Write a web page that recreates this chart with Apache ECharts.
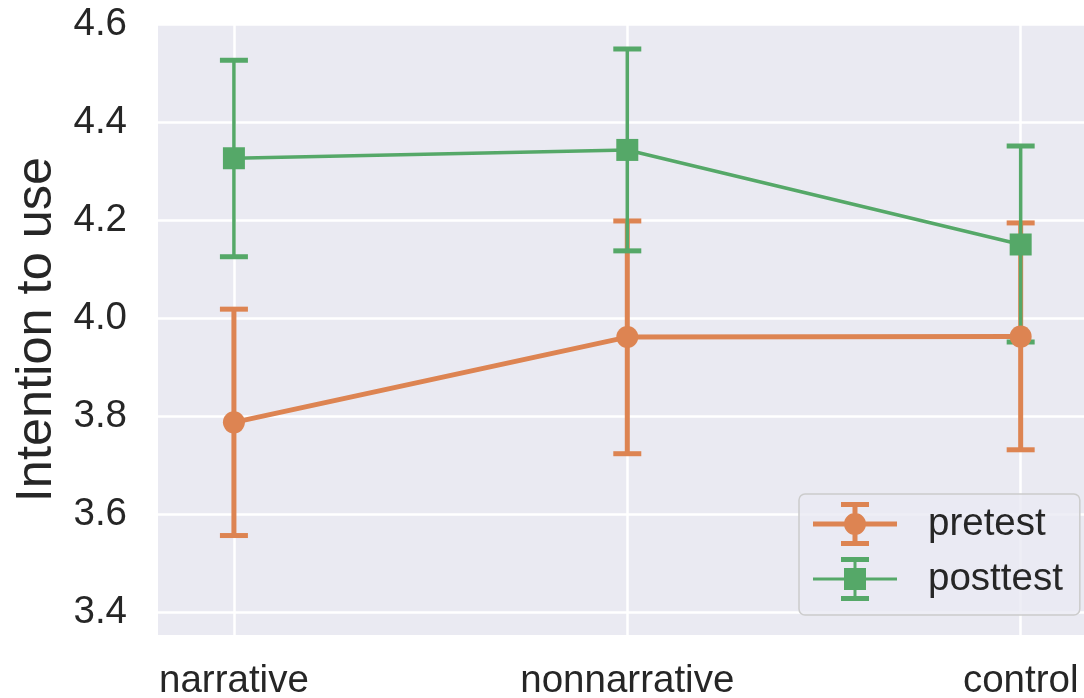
<!DOCTYPE html>
<html>
<head>
<meta charset="utf-8">
<script src="https://cdn.jsdelivr.net/npm/echarts@6/dist/echarts.min.js"></script>
<style>
  html, body { margin: 0; padding: 0; background: #fff; }
  #chart { width: 1084px; height: 698px; }
</style>
</head>
<body>
<div id="chart"></div>
<script>
// data
var categories = ['narrative', 'nonnarrative', 'control'];
var yTicks = [3.4, 3.6, 3.8, 4.0, 4.2, 4.4, 4.6];

var preMean = [3.787, 3.961, 3.962];
var preLow = [3.556, 3.723, 3.731];
var preHigh = [4.018, 4.198, 4.194];

var postMean = [4.326, 4.343, 4.150];
var postLow = [4.125, 4.137, 3.951];
var postHigh = [4.526, 4.549, 4.351];

var ORANGE = '#dd8452';
var GREEN = '#55a868';
var TEXT = '#262626';
var FONT = '"Liberation Sans", Arial, sans-serif';

// legend glyphs: line + errorbar + marker
var preIcon = 'path://M0 19.5H84V24.5H0Z M39.5 0H44.5V44H39.5Z M28 0H56V5H28Z M28 39H56V44H28Z M31 22A11 11 0 1 1 53 22A11 11 0 1 1 31 22Z';
var postIcon = 'path://M0 20.5H84V23.5H0Z M40.5 0H43.5V44H40.5Z M28 0H56V5H28Z M28 39H56V44H28Z M31 11H53V33H31Z';

var xIdx = categories.map(function (c, i) { return i; });

function points(vals) {
  return vals.map(function (v, i) { return [i, v]; });
}
function bars(lo, hi) {
  return lo.map(function (v, i) { return [i, v, hi[i]]; });
}

// error bar: vertical line + two caps
function errorBar(lineW) {
  return function (params, api) {
    var x = api.value(0);
    var lo = api.coord([x, api.value(1)]);
    var hi = api.coord([x, api.value(2)]);
    var half = 14;
    var color = api.visual('color');
    return {
      type: 'group',
      children: [
        { type: 'line', shape: { x1: hi[0], y1: hi[1], x2: lo[0], y2: lo[1] }, style: { stroke: color, lineWidth: lineW } },
        { type: 'line', shape: { x1: hi[0] - half, y1: hi[1], x2: hi[0] + half, y2: hi[1] }, style: { stroke: color, lineWidth: 5 } },
        { type: 'line', shape: { x1: lo[0] - half, y1: lo[1], x2: lo[0] + half, y2: lo[1] }, style: { stroke: color, lineWidth: 5 } }
      ]
    };
  };
}

var chart = echarts.init(document.getElementById('chart'), null, { renderer: 'canvas' });

var option = {
  animation: false,
  backgroundColor: '#ffffff',
  textStyle: { fontFamily: FONT },
  grid: {
    left: 158,
    right: 0,
    top: 24,
    bottom: 63,
    containLabel: false,
    outerBoundsMode: 'none',
    show: true,
    backgroundColor: '#eaeaf2',
    borderWidth: 0
  },
  legend: {
    orient: 'vertical',
    left: 799,
    top: 494,
    padding: [8, 17, 14, 14],
    itemGap: 11,
    itemWidth: 84,
    itemHeight: 44,
    backgroundColor: 'rgba(234,234,242,0.8)',
    borderColor: '#cccccc',
    borderWidth: 1.5,
    borderRadius: 6,
    itemStyle: { borderWidth: 0 },
    textStyle: { fontSize: 38.5, color: TEXT, fontFamily: FONT, padding: [2, 0, 0, 26] },
    data: [
      { name: 'pretest', icon: preIcon },
      { name: 'posttest', icon: postIcon }
    ]
  },
  xAxis: {
    type: 'value',
    min: -0.193,
    max: 2.161,
    axisLine: { show: false },
    axisTick: { show: false, customValues: xIdx },
    axisLabel: {
      customValues: xIdx,
      formatter: function (v) { return categories[Math.round(v)]; },
      fontSize: 38.5,
      color: TEXT,
      fontFamily: FONT,
      margin: 27
    },
    splitLine: { show: true, lineStyle: { color: '#ffffff', width: 2.5 } }
  },
  yAxis: {
    type: 'value',
    min: 3.353,
    max: 4.6,
    name: 'Intention to use',
    nameLocation: 'middle',
    nameGap: 95,
    nameTextStyle: { fontSize: 50.5, color: TEXT, fontFamily: FONT },
    axisLine: { show: false },
    axisTick: { show: false, customValues: yTicks },
    axisLabel: {
      customValues: yTicks,
      formatter: function (v) { return v.toFixed(1); },
      fontSize: 38.5,
      color: TEXT,
      fontFamily: FONT,
      margin: 31
    },
    splitLine: { show: true, lineStyle: { color: '#ffffff', width: 2.5 } }
  },
  series: [
    {
      name: 'pretest ci',
      type: 'custom',
      z: 2,
      itemStyle: { color: ORANGE },
      renderItem: errorBar(5),
      data: bars(preLow, preHigh)
    },
    {
      name: 'posttest ci',
      type: 'custom',
      z: 3,
      itemStyle: { color: GREEN },
      renderItem: errorBar(3.5),
      data: bars(postLow, postHigh)
    },
    {
      name: 'pretest',
      type: 'line',
      z: 4,
      symbol: 'circle',
      symbolSize: 22,
      color: ORANGE,
      itemStyle: { color: ORANGE },
      lineStyle: { color: ORANGE, width: 5 },
      data: points(preMean)
    },
    {
      name: 'posttest',
      type: 'line',
      z: 5,
      symbol: 'rect',
      symbolSize: 22,
      color: GREEN,
      itemStyle: { color: GREEN },
      lineStyle: { color: GREEN, width: 3.5 },
      data: points(postMean)
    }
  ]
};

chart.setOption(option);
</script>
</body>
</html>
